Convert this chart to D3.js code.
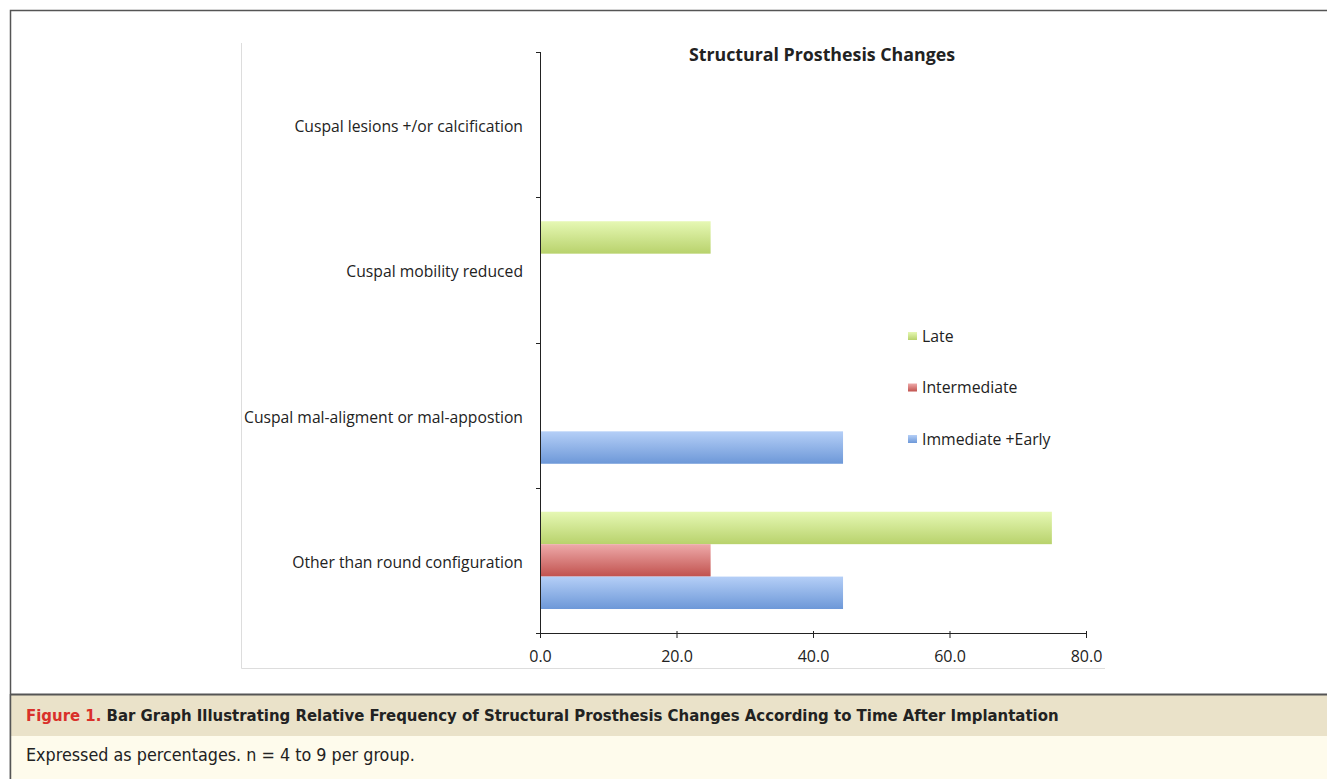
<!DOCTYPE html>
<html>
<head>
<meta charset="utf-8">
<script src="https://cdn.jsdelivr.net/npm/d3@7"></script>
<style>
	body { margin: 0; background: #fff; }
	svg { display: block; }
</style>
</head>
<body>
<div id="chart"></div>
<script>
// data
const categories = ["Cuspal lesions +/or calcification", "Cuspal mobility reduced",
	"Cuspal mal-aligment or mal-appostion", "Other than round configuration"];
const seriesNames = ["Late", "Intermediate", "Immediate +Early"];
const lateValues = [0, 25, 0, 75];
const intermediateValues = [0, 0, 0, 25];
const earlyValues = [0, 0, 44.4, 44.4];
const xTicks = [0, 20, 40, 60, 80];
const captionTitle = "Bar Graph Illustrating Relative Frequency of Structural Prosthesis Changes According to Time After Implantation";
const captionNote = "Expressed as percentages. n = 4 to 9 per group.";

const W = 1327, H = 779;
const font = "'Open Sans', 'DejaVu Sans', sans-serif";
const capFont = "'DejaVu Sans Condensed', 'Liberation Sans', sans-serif";

const svg = d3.select("#chart").append("svg")
	.attr("width", W).attr("height", H);

const colors = [
	{top: "#e6f8b4", bottom: "#b8d26c"},
	{top: "#eeaaaa", bottom: "#c1524e"},
	{top: "#b5cff7", bottom: "#6d98d8"}
];
const defs = svg.append("defs");
colors.forEach((c, i) => {
	const g = defs.append("linearGradient").attr("id", "grad" + i)
		.attr("x1", 0).attr("y1", 0).attr("x2", 0).attr("y2", 1);
	g.append("stop").attr("offset", "0%").attr("stop-color", c.top);
	g.append("stop").attr("offset", "100%").attr("stop-color", c.bottom);
});

// outer frame
svg.append("path")
	.attr("d", "M10.5," + H + " V10.5 H" + W)
	.attr("fill", "none").attr("stroke", "#555").attr("stroke-width", 1.5);

// chart area frame (light)
svg.append("path")
	.attr("d", "M241.5,43 V668.5 H1105")
	.attr("fill", "none").attr("stroke", "#ddd").attr("stroke-width", 1);

const x = d3.scaleLinear().domain([0, 80]).range([540, 1086]);
const y = d3.scaleBand().domain(categories).range([52, 633]);
const inner = d3.scaleBand().domain(seriesNames).range([0, y.bandwidth()]).paddingOuter(0.74).paddingInner(0);

const g = svg.append("g");

// bars
const seriesData = [lateValues, intermediateValues, earlyValues];
seriesData.forEach((vals, si) => {
	g.append("g").selectAll("rect")
		.data(vals.map((v, i) => ({cat: categories[i], v})).filter(d => d.v > 0))
		.enter().append("rect")
		.attr("x", x(0))
		.attr("y", d => y(d.cat) + inner(seriesNames[si]))
		.attr("width", d => x(d.v) - x(0))
		.attr("height", inner.bandwidth())
		.attr("fill", "url(#grad" + si + ")");
});

// x axis
const xAxis = g.append("g").attr("transform", "translate(0,633)")
	.call(d3.axisBottom(x).tickValues(xTicks).tickFormat(d3.format(".1f")).tickSize(5).tickSizeOuter(0));
xAxis.select(".domain").attr("stroke", "#222");
xAxis.selectAll(".tick line").attr("stroke", "#222").attr("transform", "translate(0,-2)").attr("y2", 7);
xAxis.selectAll("text").attr("font-family", font).attr("font-size", 16).attr("fill", "#222")
	.attr("dy", "1.2em").attr("y", 10);

// y axis with tick marks at band edges
const yAxisG = g.append("g");
yAxisG.append("line").attr("x1", 540.5).attr("x2", 540.5).attr("y1", 52).attr("y2", 633)
	.attr("stroke", "#222");
const edges = categories.map(c => y(c)).concat([y.range()[1]]);
yAxisG.selectAll(".edge").data(edges).enter().append("line")
	.attr("x1", 536).attr("x2", 540)
	.attr("y1", d => Math.round(d) + 0.5).attr("y2", d => Math.round(d) + 0.5)
	.attr("stroke", "#222");
yAxisG.selectAll(".lab").data(categories).enter().append("text")
	.attr("x", 523)
	.attr("y", d => y(d) + y.bandwidth() / 2 + 2)
	.attr("dy", "0.35em")
	.attr("text-anchor", "end")
	.attr("font-family", font).attr("font-size", 15.7).attr("fill", "#222")
	.text(d => d);

// title
svg.append("text").attr("x", 822).attr("y", 61)
	.attr("text-anchor", "middle")
	.attr("font-family", font).attr("font-size", 17.8).attr("font-weight", "bold").attr("fill", "#222")
	.text("Structural Prosthesis Changes");

// legend
const legY = d3.scalePoint().domain(seriesNames).range([336, 439]);
const leg = svg.append("g").selectAll("g").data(seriesNames).enter().append("g")
	.attr("transform", d => "translate(908," + legY(d) + ")");
leg.append("rect").attr("x", 0).attr("y", -4).attr("width", 9).attr("height", 8)
	.attr("fill", (d, i) => "url(#grad" + i + ")");
leg.append("text").attr("x", 14).attr("dy", "0.35em")
	.attr("font-family", font).attr("font-size", 15.8).attr("fill", "#222")
	.text(d => d);

// caption block
svg.append("rect").attr("x", 11).attr("y", 695).attr("width", W - 11).attr("height", 41).attr("fill", "#eae2c9");
svg.append("rect").attr("x", 11).attr("y", 736).attr("width", W - 11).attr("height", H - 736).attr("fill", "#fefbec");
svg.append("line").attr("x1", 10).attr("x2", W).attr("y1", 694.5).attr("y2", 694.5)
	.attr("stroke", "#555").attr("stroke-width", 2);
svg.append("line").attr("x1", 10.5).attr("x2", 10.5).attr("y1", 694).attr("y2", H)
	.attr("stroke", "#555").attr("stroke-width", 1.5);

const capTitle = svg.append("text").attr("x", 26).attr("y", 721)
	.attr("font-family", capFont).attr("font-size", 16.6).attr("font-weight", "bold");
capTitle.append("tspan").attr("fill", "#d9302a").text("Figure 1. ");
capTitle.append("tspan").attr("fill", "#222").text(captionTitle);

svg.append("text").attr("x", 26).attr("y", 761)
	.attr("font-family", capFont).attr("font-size", 17.8).attr("fill", "#222")
	.text(captionNote);
</script>
</body>
</html>
